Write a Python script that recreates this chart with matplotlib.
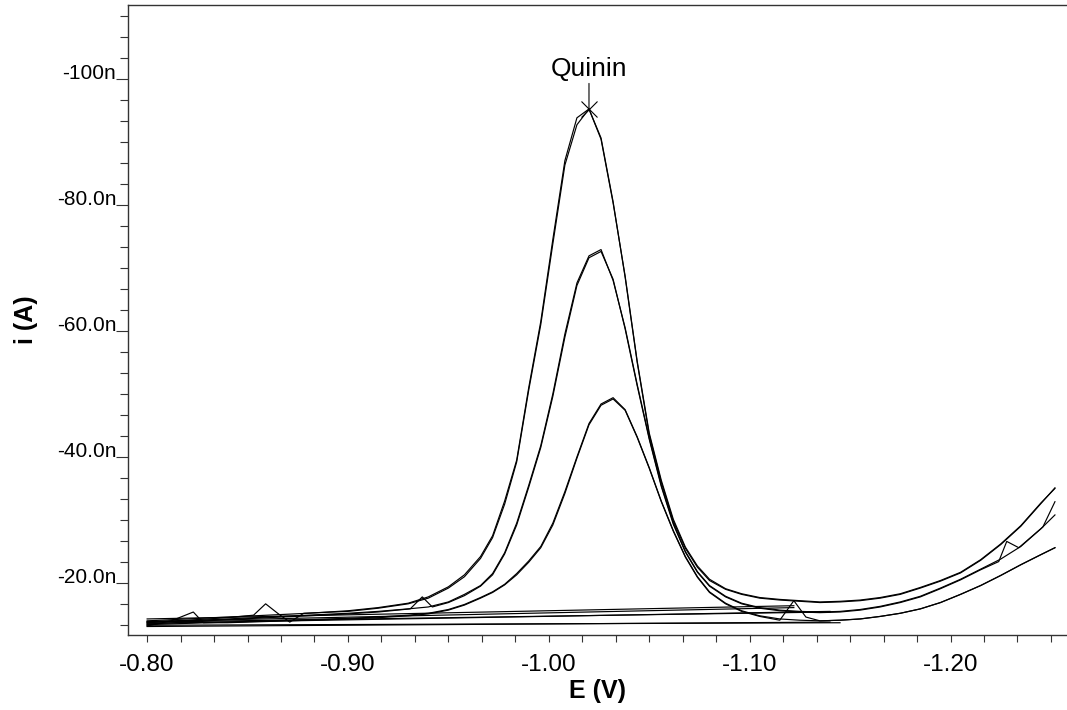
import numpy as np
import matplotlib.pyplot as plt
from matplotlib.ticker import MultipleLocator, FuncFormatter

plt.rcParams['font.family'] = ['Liberation Sans', 'DejaVu Sans']

# potential grid (V) shared by the three main scans
E = [-0.800, -0.820, -0.840, -0.860, -0.880, -0.900, -0.915, -0.930, -0.940, -0.950,
     -0.958, -0.966, -0.972, -0.978, -0.984, -0.990, -0.996, -1.002, -1.008, -1.014,
     -1.020, -1.026, -1.032, -1.038, -1.044, -1.050, -1.056, -1.062, -1.068, -1.074,
     -1.080, -1.088, -1.096, -1.105, -1.115, -1.125, -1.135, -1.145, -1.155, -1.165,
     -1.175, -1.185, -1.195, -1.205, -1.215, -1.225, -1.235, -1.245, -1.252]

# currents in nA
i_a = [-14.0, -14.3, -14.6, -14.9, -15.2, -15.6, -16.1, -16.8, -17.8, -19.4,
       -21.3, -24.2, -27.5, -33.0, -39.5, -51.0, -61.5, -74.5, -87.0, -93.8,
       -95.2, -90.6, -80.5, -68.5, -55.0, -43.5, -36.0, -29.8, -25.5, -22.5,
       -20.4, -19.0, -18.2, -17.6, -17.3, -17.1, -16.9, -17.0, -17.2, -17.6,
       -18.2, -19.2, -20.3, -21.6, -23.6, -26.1, -29.0, -32.6, -35.1]
i_b = [-13.7, -14.0, -14.3, -14.6, -14.9, -15.2, -15.5, -15.9, -16.2, -17.0,
       -18.2, -19.6, -21.5, -24.8, -29.5, -35.5, -41.8, -50.0, -59.5, -67.6,
       -71.9, -72.9, -68.0, -60.5, -51.5, -43.0, -35.5, -29.5, -25.0, -21.8,
       -19.6, -17.9, -16.8, -16.1, -15.7, -15.5, -15.4, -15.5, -15.8, -16.3,
       -17.0, -17.9, -19.2, -20.6, -22.2, -23.8, -25.8, -28.6, -30.8]
i_c = [-13.4, -13.6, -13.8, -14.0, -14.2, -14.4, -14.6, -14.9, -15.2, -15.8,
       -16.6, -17.7, -18.6, -19.8, -21.5, -23.5, -25.8, -29.5, -34.5, -40.0,
       -45.3, -48.4, -49.4, -47.5, -43.2, -38.3, -33.0, -28.3, -24.2, -21.0,
       -18.6, -16.8, -15.6, -14.8, -14.3, -14.1, -14.0, -14.1, -14.3, -14.7,
       -15.2, -15.9, -16.9, -18.2, -19.6, -21.2, -22.9, -24.5, -25.6]

# replicate scans
E_a2 = [-0.800, -0.820, -0.840, -0.853, -0.859, -0.865, -0.871, -0.878, -0.900, -0.915,
        -0.930, -0.940, -0.950, -0.958, -0.966, -0.972, -0.978, -0.984, -0.990, -0.996,
        -1.002, -1.008, -1.014, -1.020, -1.026, -1.032, -1.038, -1.044, -1.050, -1.056,
        -1.062, -1.068, -1.074, -1.080, -1.088, -1.096, -1.105, -1.115, -1.125, -1.135,
        -1.145, -1.155, -1.165, -1.175, -1.185, -1.195, -1.205, -1.215, -1.225, -1.235,
        -1.245, -1.252]
i_a2 = [-13.8, -14.1, -14.5, -14.9, -16.7, -15.2, -13.8, -15.2, -15.5, -16.0,
        -16.7, -17.6, -19.2, -21.0, -23.9, -27.2, -32.5, -39.2, -50.6, -61.0,
        -73.8, -86.3, -92.7, -95.2, -90.4, -80.3, -68.7, -55.2, -43.8, -36.3,
        -30.1, -25.7, -22.7, -20.6, -19.1, -18.3, -17.7, -17.4, -17.2, -17.0,
        -17.1, -17.3, -17.7, -18.3, -19.3, -20.4, -21.7, -23.7, -26.2, -29.1,
        -32.7, -35.0]

E_b2 = [-0.800, -0.820, -0.840, -0.860, -0.880, -0.900, -0.915, -0.931, -0.937, -0.942,
        -0.950, -0.958, -0.966, -0.972, -0.978, -0.984, -0.990, -0.996, -1.002, -1.008,
        -1.014, -1.020, -1.026, -1.032, -1.038, -1.044, -1.050, -1.056, -1.062, -1.068,
        -1.074, -1.080, -1.088, -1.096, -1.105, -1.115, -1.125, -1.135, -1.145, -1.155,
        -1.165, -1.175, -1.185, -1.195, -1.205, -1.215, -1.224, -1.228, -1.234, -1.246,
        -1.252]
i_b2 = [-13.5, -13.8, -14.2, -14.5, -14.8, -15.1, -15.4, -15.9, -17.8, -16.2,
        -16.9, -18.0, -19.5, -21.3, -24.6, -29.2, -35.2, -41.5, -49.6, -59.0,
        -67.2, -71.6, -72.6, -68.2, -60.3, -51.3, -42.8, -35.3, -29.3, -24.9,
        -21.7, -19.5, -17.8, -16.7, -16.0, -15.6, -15.4, -15.3, -15.4, -15.7,
        -16.2, -16.9, -17.8, -19.1, -20.5, -22.1, -23.4, -26.6, -25.6, -28.9,
        -32.9]

E_c2 = [-0.800, -0.812, -0.823, -0.828, -0.840, -0.860, -0.880, -0.900, -0.915, -0.930,
        -0.940, -0.950, -0.958, -0.966, -0.972, -0.978, -0.984, -0.990, -0.996, -1.002,
        -1.008, -1.014, -1.020, -1.026, -1.032, -1.038, -1.044, -1.050, -1.056, -1.062,
        -1.068, -1.074, -1.080, -1.088, -1.096, -1.105, -1.115, -1.122, -1.128, -1.135,
        -1.145, -1.155, -1.165, -1.175, -1.185, -1.195, -1.205, -1.215, -1.225, -1.235,
        -1.245, -1.252]
i_c2 = [-13.2, -14.0, -15.4, -13.7, -13.7, -13.9, -14.1, -14.3, -14.5, -14.8,
        -15.1, -15.7, -16.5, -17.6, -18.5, -19.7, -21.3, -23.3, -25.6, -29.2,
        -34.2, -39.8, -45.1, -48.2, -49.2, -47.4, -43.1, -38.2, -32.9, -28.2,
        -24.1, -20.9, -18.5, -16.7, -15.5, -14.7, -14.1, -17.2, -14.6, -14.0,
        -14.1, -14.3, -14.7, -15.2, -15.9, -16.9, -18.2, -19.6, -21.2, -22.9,
        -24.5, -25.6]

# baselines under the peaks (start, end)
base_E = [[-0.800, -1.122], [-0.800, -1.122], [-0.800, -1.140],
          [-0.800, -1.140], [-0.800, -1.145], [-0.800, -1.140]]
base_i = [[-14.3, -16.4], [-13.9, -16.1], [-13.6, -15.5],
          [-13.8, -15.4], [-13.3, -13.7], [-13.1, -13.8]]

peak_E = -1.020
peak_i = -95.2

fig = plt.figure(figsize=(10.67, 7.1), dpi=100)
ax = fig.add_axes([0.12, 0.1056, 0.88, 0.8874])

lw = 0.85
for e, i in [(E, i_a), (E_a2, i_a2), (E, i_b), (E_b2, i_b2), (E, i_c), (E_c2, i_c2)]:
    ax.plot(e, i, color='black', lw=lw)
for e, i in zip(base_E, base_i):
    ax.plot(e, i, color='black', lw=lw)

ax.plot([peak_E], [peak_i], 'x', color='black', markersize=12, mew=0.8)
ax.annotate('Quinin', xy=(peak_E, peak_i), xytext=(0, 24), textcoords='offset points',
            ha='center', va='baseline', fontsize=19,
            arrowprops=dict(arrowstyle='-', lw=0.8, color='black', shrinkA=0, shrinkB=0))

ax.set_xlim(-0.7905, -1.258)
ax.set_ylim(-11.75, -111.7)

ax.xaxis.set_major_locator(MultipleLocator(0.1))
ax.xaxis.set_minor_locator(MultipleLocator(0.1 / 6))
ax.xaxis.set_major_formatter(FuncFormatter(lambda v, p: '%.2f' % v))
ax.yaxis.set_major_locator(MultipleLocator(20))
ax.yaxis.set_minor_locator(MultipleLocator(20 / 6))
ax.yaxis.set_major_formatter(FuncFormatter(
    lambda v, p: ('%.0fn' % v) if abs(v) >= 99.5 else ('%.1fn' % v)))

ax.tick_params(axis='x', which='both', direction='out', length=5, width=0.8,
               color='#333333', labelsize=17.5, pad=9)
ax.tick_params(axis='y', which='major', direction='out', length=8.4, width=0.8,
               color='#333333', labelsize=15, pad=0)
ax.tick_params(axis='y', which='minor', direction='out', length=6, width=0.8,
               color='#333333')
for lbl in ax.get_yticklabels():
    lbl.set_va('baseline')

ax.spines['right'].set_visible(False)
for s in ['left', 'bottom', 'top']:
    ax.spines[s].set_linewidth(1.0)
    ax.spines[s].set_color('#333333')

ax.set_xlabel('E (V)', fontsize=18, fontweight='bold', labelpad=2)
ax.set_ylabel('i (A)', fontsize=18, fontweight='bold')
ax.yaxis.set_label_coords(-0.096, 0.5)

fig.savefig('out.png', dpi=100)
